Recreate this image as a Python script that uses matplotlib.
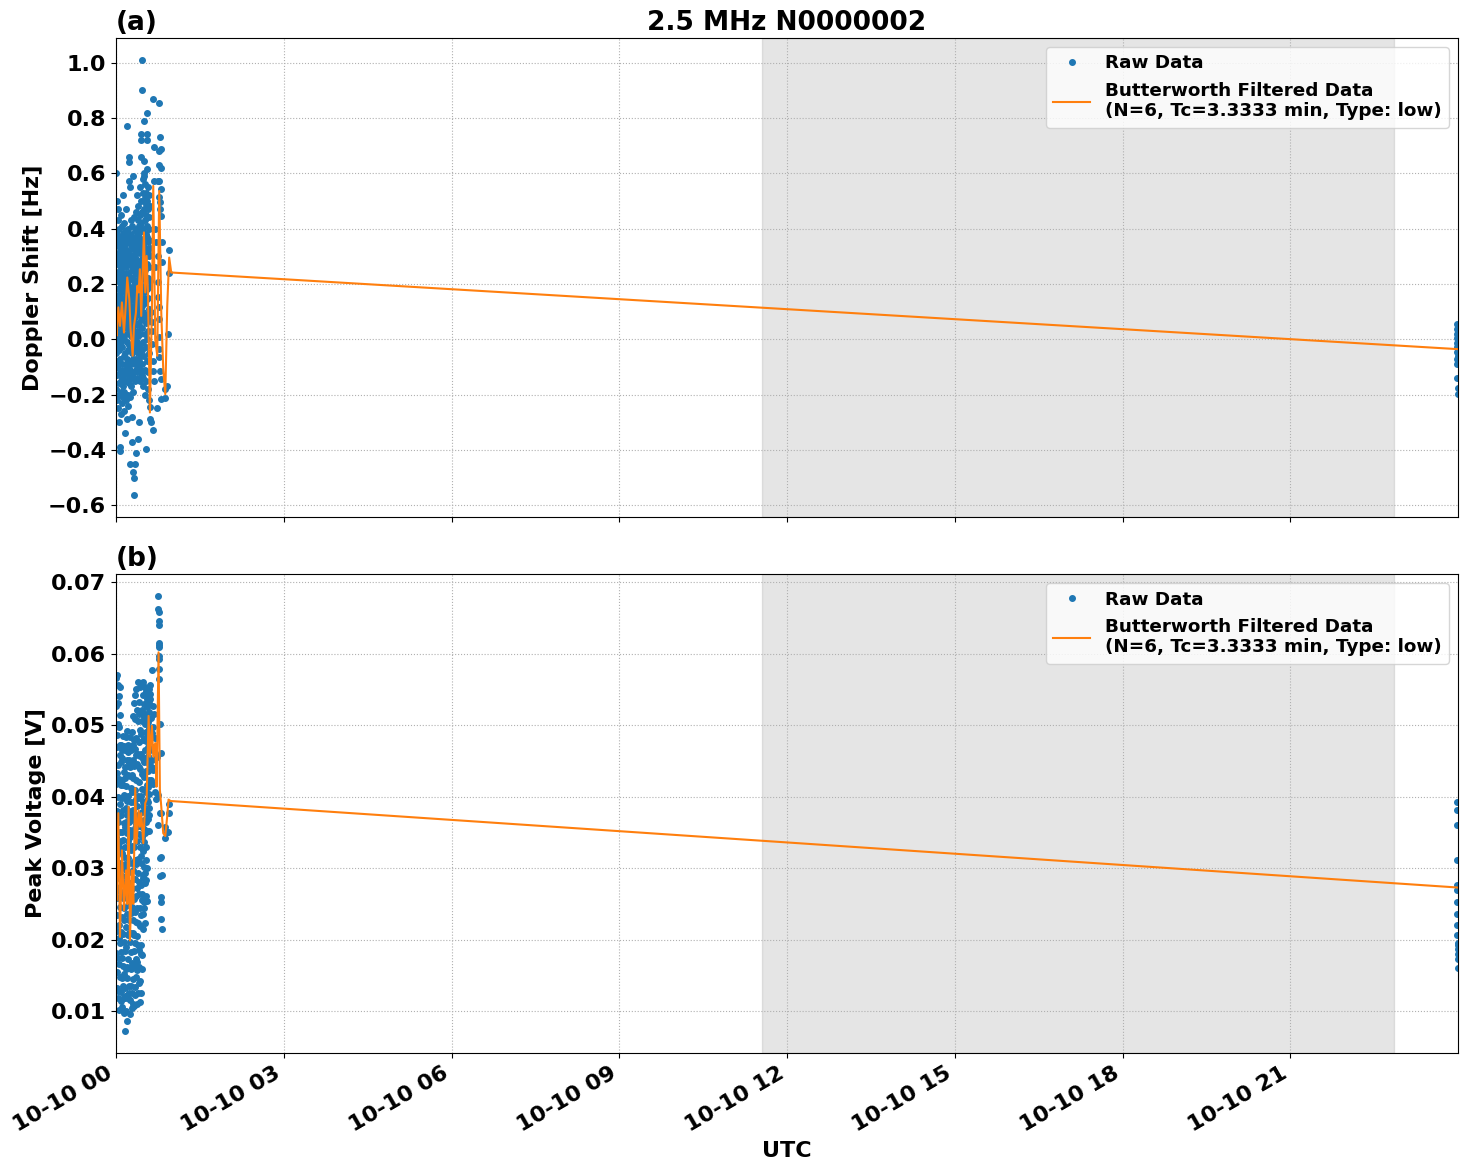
import pandas as pd
import matplotlib
matplotlib.use("Agg")
import matplotlib.pyplot as plt
import matplotlib.dates as mdates

# raw samples, minutes after 2024-10-10 00:00 UTC (shared by both panels)
t_min = [
    0.0, 0.1, 0.2, 0.3, 0.4, 0.5, 0.6, 0.7, 0.8, 0.9,
    1.0, 1.1, 1.2, 1.3, 1.4, 1.5, 1.6, 1.7, 1.8, 1.9,
    2.0, 2.1, 2.2, 2.3, 2.4, 2.5, 2.6, 2.7, 2.8, 2.9,
    3.0, 3.1, 3.2, 3.3, 3.4, 3.5, 3.6, 3.7, 3.8, 3.9,
    4.0, 4.1, 4.2, 4.3, 4.4, 4.5, 4.6, 4.7, 4.8, 4.9,
    5.0, 5.1, 5.2, 5.3, 5.4, 5.5, 5.6, 5.7, 5.8, 5.9,
    6.0, 6.1, 6.2, 6.3, 6.4, 6.5, 6.6, 6.7, 6.8, 6.9,
    7.0, 7.1, 7.2, 7.3, 7.4, 7.5, 7.6, 7.7, 7.8, 7.9,
    8.0, 8.1, 8.2, 8.3, 8.4, 8.5, 8.6, 8.7, 8.8, 8.9,
    9.0, 9.1, 9.2, 9.3, 9.4, 9.5, 9.6, 9.7, 9.8, 9.9,
    10.0, 10.1, 10.2, 10.3, 10.4, 10.5, 10.6, 10.7, 10.8, 10.9,
    11.0, 11.1, 11.2, 11.3, 11.4, 11.5, 11.6, 11.7, 11.8, 11.9,
    12.0, 12.1, 12.2, 12.3, 12.4, 12.5, 12.6, 12.7, 12.8, 12.9,
    13.0, 13.1, 13.2, 13.3, 13.4, 13.5, 13.6, 13.7, 13.8, 13.9,
    14.0, 14.1, 14.2, 14.3, 14.4, 14.5, 14.6, 14.7, 14.8, 14.9,
    15.0, 15.1, 15.2, 15.3, 15.4, 15.5, 15.6, 15.7, 15.8, 15.9,
    16.0, 16.1, 16.2, 16.3, 16.4, 16.5, 16.6, 16.7, 16.8, 16.9,
    17.0, 17.1, 17.2, 17.3, 17.4, 17.5, 17.6, 17.7, 17.8, 17.9,
    18.0, 18.1, 18.2, 18.3, 18.4, 18.5, 18.6, 18.7, 18.8, 18.9,
    19.0, 19.1, 19.2, 19.3, 19.4, 19.5, 19.6, 19.7, 19.8, 19.9,
    20.0, 20.1, 20.2, 20.3, 20.4, 20.5, 20.6, 20.7, 20.8, 20.9,
    21.0, 21.1, 21.2, 21.3, 21.4, 21.5, 21.6, 21.7, 21.8, 21.9,
    22.0, 22.1, 22.2, 22.3, 22.4, 22.5, 22.6, 22.7, 22.8, 22.9,
    23.0, 23.1, 23.2, 23.3, 23.4, 23.5, 23.6, 23.7, 23.8, 23.9,
    24.0, 24.1, 24.2, 24.3, 24.4, 24.5, 24.6, 24.7, 24.8, 24.9,
    25.0, 25.1, 25.2, 25.3, 25.4, 25.5, 25.6, 25.7, 25.8, 25.9,
    26.0, 26.1, 26.2, 26.3, 26.4, 26.5, 26.6, 26.7, 26.8, 26.9,
    27.0, 27.1, 27.2, 27.3, 27.4, 27.5, 27.6, 27.7, 27.8, 27.9,
    28.0, 28.1, 28.2, 28.3, 28.4, 28.5, 28.6, 28.7, 28.8, 28.9,
    29.0, 29.1, 29.2, 29.3, 29.4, 29.5, 29.6, 29.7, 29.8, 29.9,
    30.0, 30.1, 30.2, 30.3, 30.4, 30.5, 30.6, 30.7, 30.8, 30.9,
    31.0, 31.1, 31.2, 31.3, 31.4, 31.5, 31.6, 31.7, 31.8, 31.9,
    32.0, 32.1, 32.2, 32.3, 32.4, 32.5, 32.6, 32.7, 32.8, 32.9,
    33.0, 33.1, 33.2, 33.3, 33.4, 33.5, 33.6, 33.7, 33.8, 33.9,
    34.0, 34.1, 34.2, 34.3, 34.4, 34.5, 34.6, 34.7, 34.8, 34.9,
    35.0, 35.1, 35.2, 35.3, 35.4, 35.5, 35.6, 35.7, 35.8, 35.9,
    # sparse tail
    36.2, 36.4, 36.6, 36.8, 37.0, 37.4, 37.8, 38.2, 38.6, 38.9,
    39.2, 39.5, 39.8, 40.0, 40.3, 40.6, 41.0, 41.6, 42.4, 43.2,
    44.3, 44.8, 45.2, 45.5, 45.6, 45.7, 45.8, 45.9, 46.0, 46.1,
    46.2, 46.3, 46.4, 46.5, 46.6, 46.8, 47.0, 47.2, 47.5, 47.8,
    48.0, 48.2, 48.4, 48.6, 48.8, 49.0, 49.5, 52.2, 52.9, 54.8,
    55.7, 56.5, 57.2,
    # end of day
    1438.4, 1438.5, 1438.6, 1438.7, 1438.8, 1438.9, 1439.0, 1439.1,
    1439.2, 1439.3, 1439.4, 1439.5, 1439.6, 1439.7, 1439.8, 1439.9,
]

doppler_hz = [
    0.12, -0.05, 0.31, 0.60, 0.02, -0.18, 0.24, 0.38, -0.10, 0.08,
    0.27, -0.22, 0.15, 0.50, -0.02, 0.34, -0.13, 0.05, 0.21, 0.43,
    -0.08, 0.18, 0.36, -0.25, 0.10, 0.47, 0.00, 0.28, -0.16, 0.13,
    0.22, -0.30, 0.07, 0.40, -0.04, 0.30, -0.20, 0.16, 0.33, -0.11,
    0.03, 0.25, -0.39, 0.19, -0.07, 0.37, 0.11, -0.405, 0.29, -0.15,
    0.14, -0.27, 0.32, 0.06, -0.12, 0.45, 0.20, -0.01, 0.26, -0.19,
    0.35, -0.09, 0.09, 0.23, -0.23, 0.41, 0.01, 0.17, -0.14, 0.30,
    -0.03, 0.27, 0.13, -0.17, 0.38, 0.04, 0.52, -0.21, 0.21, 0.10,
    0.31, -0.11, 0.18, 0.00, 0.34, -0.06, 0.24, -0.26, 0.08, 0.42,
    0.15, -0.19, 0.28, 0.05, 0.39, -0.13, 0.11, 0.22, -0.34, 0.33,
    -0.05, 0.19, 0.36, -0.22, 0.07, 0.29, -0.09, 0.47, 0.14, 0.02,
    0.26, -0.15, 0.12, 0.37, -0.01, 0.20, -0.29, 0.32, 0.09, -0.07,
    0.77, 0.16, -0.12, 0.30, 0.04, -0.20, 0.24, 0.40, -0.04, 0.13,
    0.21, -0.10, 0.35, 0.08, -0.24, 0.18, 0.57, -0.02, 0.28, -0.16,
    0.66, 0.64, 0.10, -0.08, 0.31, 0.23, -0.45, 0.03, 0.38, -0.14,
    0.17, 0.55, -0.11, 0.27, 0.06, -0.21, 0.34, 0.12, -0.03, 0.43,
    -0.17, 0.22, 0.01, 0.36, -0.09, 0.15, 0.29, -0.37, 0.09, 0.25,
    0.04, 0.33, -0.13, 0.19, 0.41, -0.05, 0.11, -0.28, 0.26, 0.59,
    0.14, -0.19, 0.30, 0.07, -0.48, 0.22, 0.37, -0.07, 0.18, 0.02,
    -0.564, 0.28, 0.10, -0.12, 0.35, 0.05, -0.50, 0.21, 0.44, -0.02,
    0.16, -0.09, 0.32, 0.00, 0.24, -0.15, 0.39, 0.08, -0.45, 0.27,
    0.12, 0.36, -0.04, 0.20, -0.41, 0.29, 0.06, -0.11, 0.46, 0.17,
    -0.07, 0.25, 0.40, 0.03, -0.14, 0.31, 0.13, 0.52, -0.01, 0.21,
    0.34, -0.10, 0.18, 0.43, 0.09, -0.36, 0.27, 0.01, 0.38, -0.05,
    0.15, 0.48, -0.12, 0.23, 0.05, 0.33, -0.03, 0.41, 0.11, -0.30,
    0.28, -0.08, 0.37, 0.14, 0.55, -0.15, 0.20, 0.02, 0.45, 0.09,
    -0.02, 0.31, 0.17, -0.11, 0.42, 0.07, 0.26, 0.50, -0.06, 0.35,
    0.74, 0.72, 0.66, 0.19, -0.13, 0.39, 0.04, 0.29, 0.12, -0.04,
    1.01, 0.90, 0.22, 0.46, -0.09, 0.34, 0.10, 0.53, -0.17, 0.27,
    0.15, 0.40, -0.01, 0.58, 0.24, -0.14, 0.32, 0.08, 0.47, 0.19,
    0.79, 0.645, 0.60, 0.59, 0.36, -0.06, 0.28, 0.51, 0.13, -0.20,
    0.43, 0.02, 0.25, 0.56, -0.11, 0.33, 0.17, 0.49, -0.03, 0.38,
    -0.397, 0.21, 0.45, 0.06, 0.30, -0.15, 0.53, 0.14, 0.37, 0.00,
    0.817, 0.74, 0.72, 0.614, 0.41, 0.18, -0.08, 0.27, 0.50, 0.09,
    0.35, -0.18, 0.22, 0.47, 0.03, 0.31, 0.55, -0.12, 0.15, 0.40,
    0.26, -0.05, 0.44, 0.11, 0.36, -0.22, 0.52, 0.19, 0.30, 0.07,
    # sparse tail
    0.33, -0.245, 0.48, -0.29, 0.21, -0.30, 0.098, 0.061, 0.029, -0.018,
    -0.116, -0.33, -0.08, 0.867, 0.693, 0.572, -0.15, 0.40, 0.26, 0.35,
    -0.25, 0.572, 0.30, 0.206, 0.152, 0.572, 0.116, 0.072, 0.63, 0.007,
    -0.036, 0.513, 0.853, -0.065, 0.68, 0.495, 0.47, 0.729, -0.116, 0.62,
    0.542, -0.145, 0.445, 0.687, -0.217, 0.35, 0.28, -0.18, -0.214, -0.17,
    0.018, 0.24, 0.322,
    # end of day
    0.054, 0.036, 0.018, 0.006, -0.012, -0.03, -0.045, -0.072,
    -0.09, -0.142, -0.178, -0.199, 0.045, -0.06, 0.02, -0.08,
]

voltage_v = [
    0.0343, 0.0527, 0.0181, 0.0418, 0.0274, 0.0566, 0.0132, 0.0469, 0.0235, 0.0380,
    0.0486, 0.0212, 0.0319, 0.0570, 0.0155, 0.0433, 0.0287, 0.0531, 0.0118, 0.0364,
    0.0258, 0.0444, 0.0175, 0.0501, 0.0333, 0.0129, 0.0400, 0.0556, 0.0202, 0.0307,
    0.0541, 0.0166, 0.0373, 0.0269, 0.0497, 0.0102, 0.0425, 0.0220, 0.0328, 0.0514,
    0.0195, 0.0459, 0.0292, 0.0554, 0.0148, 0.0390, 0.0246, 0.0473, 0.0351, 0.0127,
    0.0417, 0.0183, 0.0338, 0.0472, 0.0266, 0.0114, 0.0449, 0.0211, 0.0375, 0.0300,
    0.0232, 0.0465, 0.0147, 0.0350, 0.0289, 0.0423, 0.0106, 0.0398, 0.0174, 0.0321,
    0.0454, 0.0208, 0.0381, 0.0136, 0.0302, 0.0485, 0.0259, 0.0163, 0.0417, 0.0340,
    0.0279, 0.0120, 0.0434, 0.0197, 0.0363, 0.0098, 0.0471, 0.0245, 0.0316, 0.0152,
    0.0403, 0.0227, 0.0330, 0.0465, 0.0119, 0.0281, 0.0184, 0.0426, 0.0358, 0.0132,
    0.0306, 0.0441, 0.0072, 0.0218, 0.0384, 0.0159, 0.0483, 0.0267, 0.0100, 0.0365,
    0.0190, 0.0415, 0.0298, 0.0123, 0.0451, 0.0236, 0.0349, 0.0162, 0.0394, 0.0087,
    0.0492, 0.0259, 0.0146, 0.0374, 0.0207, 0.0430, 0.0315, 0.0118, 0.0271, 0.0463,
    0.0338, 0.0173, 0.0401, 0.0249, 0.0472, 0.0136, 0.0364, 0.0210, 0.0447, 0.0295,
    0.0125, 0.0380, 0.0227, 0.0452, 0.0308, 0.0161, 0.0429, 0.0096, 0.0343, 0.0264,
    0.0441, 0.0197, 0.0354, 0.0280, 0.0116, 0.0483, 0.0238, 0.0392, 0.0159, 0.0325,
    0.0269, 0.0412, 0.0136, 0.0465, 0.0210, 0.0368, 0.0183, 0.0307, 0.0491, 0.0104,
    0.0374, 0.0246, 0.0430, 0.0168, 0.0331, 0.0125, 0.0407, 0.0273, 0.0452, 0.0209,
    0.0513, 0.0298, 0.0145, 0.0381, 0.0227, 0.0472, 0.0110, 0.0349, 0.0426, 0.0184,
    0.0257, 0.0531, 0.0329, 0.0164, 0.0443, 0.0206, 0.0392, 0.0108, 0.0480, 0.0285,
    0.0410, 0.0134, 0.0356, 0.0542, 0.0239, 0.0467, 0.0195, 0.0311, 0.0123, 0.0508,
    0.0306, 0.0459, 0.0173, 0.0397, 0.0261, 0.0550, 0.0148, 0.0424, 0.0225, 0.0362,
    0.0482, 0.0205, 0.0338, 0.0110, 0.0446, 0.0273, 0.0521, 0.0169, 0.0387, 0.0244,
    0.0158, 0.0401, 0.0294, 0.0506, 0.0192, 0.0359, 0.0460, 0.0125, 0.0313, 0.0561,
    0.0375, 0.0223, 0.0477, 0.0139, 0.0420, 0.0264, 0.0532, 0.0186, 0.0348, 0.0441,
    0.0281, 0.0516, 0.0162, 0.0398, 0.0245, 0.0457, 0.0113, 0.0330, 0.0494, 0.0219,
    0.0439, 0.0142, 0.0365, 0.0553, 0.0276, 0.0180, 0.0488, 0.0317, 0.0401, 0.0234,
    0.0193, 0.0460, 0.0307, 0.0125, 0.0521, 0.0378, 0.0256, 0.0432, 0.0159, 0.0344,
    0.0506, 0.0264, 0.0411, 0.0179, 0.0358, 0.0542, 0.0215, 0.0453, 0.0290, 0.0387,
    0.0324, 0.0479, 0.0236, 0.0560, 0.0392, 0.0287, 0.0511, 0.0355, 0.0448, 0.0253,
    0.0427, 0.0302, 0.0530, 0.0368, 0.0245, 0.0481, 0.0336, 0.0553, 0.0279, 0.0454,
    0.0380, 0.0515, 0.0293, 0.0466, 0.0349, 0.0224, 0.0502, 0.0407, 0.0311, 0.0548,
    0.0478, 0.0261, 0.0436, 0.0364, 0.0552, 0.0329, 0.0490, 0.0283, 0.0417, 0.0525,
    0.0352, 0.0537, 0.0395, 0.0301, 0.0483, 0.0448, 0.0254, 0.0510, 0.0376, 0.0469,
    0.0505, 0.0413, 0.0369, 0.0540, 0.0457, 0.0392, 0.0528, 0.0436, 0.0481, 0.0384,
    0.0449, 0.0550, 0.0404, 0.0496, 0.0352, 0.0531, 0.0467, 0.0423, 0.0518, 0.0375,
    # sparse tail
    0.0536, 0.0543, 0.0466, 0.0445, 0.0556, 0.0424, 0.0510, 0.0489, 0.0577, 0.0452,
    0.0498, 0.0437, 0.0527, 0.0418, 0.0470, 0.0515, 0.0440, 0.0406, 0.0482, 0.0397,
    0.0455, 0.0403, 0.0360, 0.0681, 0.0663, 0.0659, 0.0646, 0.0640, 0.0615, 0.0612,
    0.0609, 0.0597, 0.0592, 0.0578, 0.0564, 0.0377, 0.0501, 0.0314, 0.0289, 0.0461,
    0.0260, 0.0316, 0.0253, 0.0377, 0.0229, 0.0215, 0.0290, 0.0357, 0.0342, 0.0350,
    0.0350, 0.0377, 0.0390,
    # end of day
    0.0392, 0.0382, 0.0360, 0.0312, 0.0276, 0.0269, 0.0253, 0.0236,
    0.0221, 0.0207, 0.0196, 0.0192, 0.0187, 0.0180, 0.0173, 0.0161,
]

# Butterworth low-pass output
filt_dop_t = [0.0, 0.7, 2.5, 4.3, 6.4, 8.6, 10.7, 12.1, 14.3, 15.7, 17.9, 19.3,
              21.4, 22.9, 24.3, 25.7, 27.1, 28.6, 30.0, 31.4, 32.9, 34.3, 36.4,
              38.6, 40.0, 42.1, 44.3, 46.4, 48.6, 50.7, 52.9, 55.0, 57.1, 59.3,
              1439.9]
filt_dop = [0.08, 0.012, 0.115, 0.048, 0.133, 0.024, 0.133, 0.223, 0.145, 0.036,
            -0.06, 0.048, 0.096, 0.193, 0.169, 0.253, 0.084, 0.241, 0.386, 0.169,
            0.301, 0.169, -0.265, 0.12, 0.554, 0.0, -0.06, 0.536, 0.096, -0.108,
            -0.199, 0.12, 0.295, 0.241, -0.036]

filt_v_t = [0.0, 0.7, 2.5, 4.3, 6.4, 8.6, 10.7, 12.1, 13.6, 15.0, 17.1, 18.6,
            20.7, 22.1, 24.3, 25.7, 27.1, 29.3, 31.4, 32.9, 35.0, 36.4, 38.6,
            40.0, 42.1, 43.6, 45.7, 47.1, 48.6, 50.7, 52.9, 55.0, 56.4, 58.6,
            1439.9]
filt_v = [0.030, 0.0255, 0.0377, 0.0204, 0.0325, 0.0241, 0.0297, 0.025, 0.0386,
          0.0199, 0.0297, 0.025, 0.0412, 0.0335, 0.0381, 0.0358, 0.0377, 0.0335,
          0.0391, 0.0396, 0.0513, 0.0456, 0.0499, 0.0456, 0.0475, 0.0414, 0.0602,
          0.041, 0.0386, 0.0349, 0.0345, 0.0373, 0.0396, 0.0394, 0.0273]

# night-time shading (hours UTC)
night_start_h = 11.56
night_end_h = 22.86

day0 = pd.Timestamp("2024-10-10")
t_raw = day0 + pd.to_timedelta(t_min, unit="min")
t_fd = day0 + pd.to_timedelta(filt_dop_t, unit="min")
t_fv = day0 + pd.to_timedelta(filt_v_t, unit="min")
shade = (day0 + pd.Timedelta(hours=night_start_h), day0 + pd.Timedelta(hours=night_end_h))

filt_label = "Butterworth Filtered Data\n(N=6, Tc=3.3333 min, Type: low)"

fig, (ax1, ax2) = plt.subplots(2, 1, figsize=(14.68, 11.72), dpi=100, sharex=True)

panels = [
    (ax1, doppler_hz, t_fd, filt_dop, "Doppler Shift [Hz]", "(a)"),
    (ax2, voltage_v, t_fv, filt_v, "Peak Voltage [V]", "(b)"),
]
for ax, raw, tf, filt, ylab, tag in panels:
    ax.axvspan(shade[0], shade[1], color="gray", alpha=0.2)
    ax.plot(t_raw, raw, ".", color="tab:blue", markersize=8, label="Raw Data")
    ax.plot(tf, filt, "-", color="tab:orange", linewidth=1.5, label=filt_label)
    ax.set_ylabel(ylab, fontsize=16, fontweight="bold")
    ax.set_title(tag, loc="left", fontsize=19, fontweight="bold")
    ax.grid(True, linestyle=":", color="#b0b0b0")
    ax.tick_params(labelsize=16)
    for lbl in ax.get_yticklabels() + ax.get_xticklabels():
        lbl.set_fontweight("bold")
    ax.legend(loc="upper right", prop={"weight": "bold", "size": 13.2})

ax1.set_title("2.5 MHz N0000002", fontsize=19, fontweight="bold")
ax2.set_xlim(t_raw[0], t_raw[-1])
ax2.xaxis.set_major_locator(mdates.HourLocator(byhour=range(0, 24, 3)))
ax2.xaxis.set_major_formatter(mdates.DateFormatter("%m-%d %H"))
ax2.set_xlabel("UTC", fontsize=16, fontweight="bold")
fig.autofmt_xdate()
for lbl in ax2.get_xticklabels():
    lbl.set_fontweight("bold")
    lbl.set_fontsize(16)

fig.subplots_adjust(left=0.079, right=0.9932, top=0.9676, bottom=0.1015, hspace=0.119)

fig.savefig("out.png", dpi=100)
